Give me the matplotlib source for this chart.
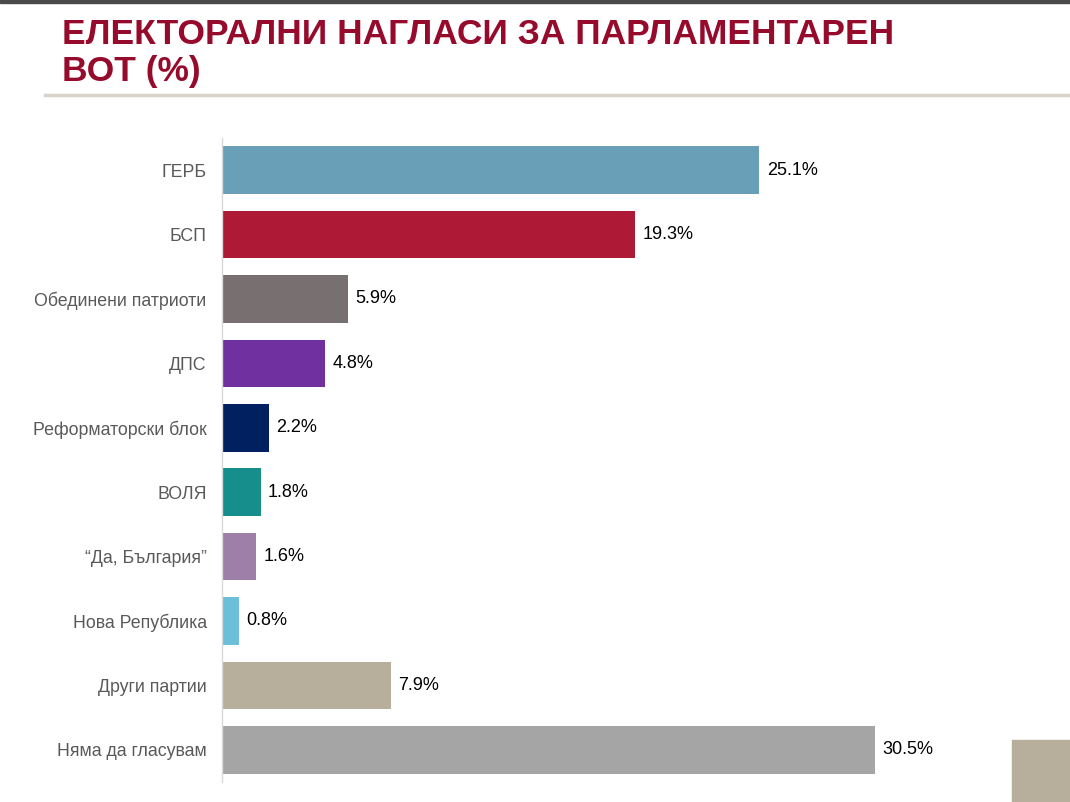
import matplotlib
matplotlib.use("Agg")
import matplotlib.pyplot as plt
from matplotlib.lines import Line2D
from matplotlib.patches import Rectangle

plt.rcParams['font.family'] = ['Liberation Sans Narrow', 'Liberation Sans', 'DejaVu Sans']

# data
parties = ["ГЕРБ", "БСП", "Обединени патриоти", "ДПС", "Реформаторски блок",
           "ВОЛЯ", "“Да, България”", "Нова Република", "Други партии", "Няма да гласувам"]
votes = [25.1, 19.3, 5.9, 4.8, 2.2, 1.8, 1.6, 0.8, 7.9, 30.5]
colors = ["#6A9FB8", "#AE1A36", "#787070", "#7030A0", "#002060",
          "#158E8C", "#9E7FA8", "#6BBFD8", "#B8AE9C", "#A5A5A5"]

title = "ЕЛЕКТОРАЛНИ НАГЛАСИ ЗА ПАРЛАМЕНТАРЕН\nВОТ (%)"

fig = plt.figure(figsize=(10.7, 8.02), dpi=100)

# page decorations
fig.add_artist(Rectangle((0, 0.996), 1, 0.004, transform=fig.transFigure, color="#4a4a4a"))
fig.add_artist(Line2D([0.042, 1.0], [0.882, 0.882], transform=fig.transFigure,
                      color="#D8D3CB", lw=2.5))
fig.add_artist(Rectangle((0.946, 0.0), 0.06, 0.077, transform=fig.transFigure, color="#B8AE9C"))

fig.text(0.058, 0.978, title, ha="left", va="top", fontsize=25.5, fontweight="bold",
         color="#960A2C", linespacing=1.15)

ax = fig.add_axes([0.2075, 0.025, 0.76, 0.803])
y = range(len(parties))
ax.barh(y, votes, height=0.74, color=colors)
ax.set_ylim(len(parties) - 0.5, -0.5)
ax.set_xlim(0, 38)

for i, v in enumerate(votes):
    ax.text(v + 0.35, i, f"{v:.1f}%", va="center", ha="left", fontsize=13, color="black")

ax.set_yticks(list(y))
ax.set_yticklabels(parties, fontsize=12.8, color="#595959")
ax.tick_params(axis="y", length=0, pad=11)
ax.set_xticks([])
for s in ["top", "right", "bottom"]:
    ax.spines[s].set_visible(False)
ax.spines["left"].set_color("#D9D9D9")
ax.spines["left"].set_linewidth(1)

fig.savefig("out.png", dpi=100)
